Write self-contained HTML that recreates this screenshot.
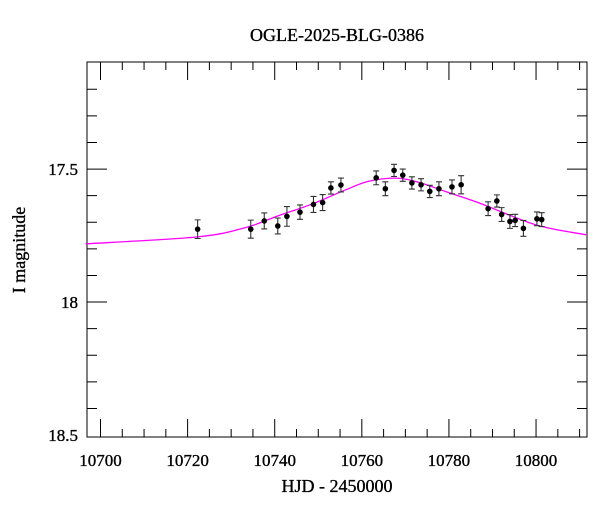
<!DOCTYPE html>
<html><head><meta charset="utf-8"><style>
html,body{margin:0;padding:0;background:#fff;}
svg text{font-family:"Liberation Serif",serif;fill:#000;stroke:#000;stroke-width:0.35;}
</style></head><body>
<svg id="chart" width="600" height="512" viewBox="0 0 600 512" xmlns="http://www.w3.org/2000/svg">
<text x="337" y="41" font-size="18" text-anchor="middle">OGLE-2025-BLG-0386</text>
<text x="337" y="492" font-size="18" text-anchor="middle">HJD - 2450000</text>
<text x="0" y="0" font-size="18" text-anchor="middle" transform="translate(25,250) rotate(-90)">I magnitude</text>
<g id="axes"></g>
<g id="curve"></g>
<g id="points"></g>
</svg>
<script>
const times=[10722.3,10734.5,10737.6,10740.7,10742.8,10745.8,10748.9,10751.0,10752.9,10755.2,10763.3,10765.4,10767.4,10769.4,10771.5,10773.6,10775.6,10777.7,10780.7,10782.8,10789.0,10791.0,10792.1,10794.0,10795.2,10797.1,10800.2,10801.3];
const mags=[17.726,17.726,17.695,17.714,17.678,17.662,17.633,17.626,17.571,17.56,17.533,17.574,17.505,17.523,17.552,17.559,17.584,17.574,17.567,17.559,17.649,17.62,17.671,17.697,17.693,17.723,17.687,17.69];
const errs=[0.035,0.034,0.03,0.03,0.037,0.027,0.03,0.03,0.023,0.026,0.026,0.026,0.023,0.023,0.023,0.023,0.023,0.026,0.026,0.034,0.026,0.023,0.026,0.026,0.023,0.03,0.026,0.026];
const modelT=[10696.6,10722.3,10733.3,10740.9,10748.5,10756.3,10761.6,10767.8,10773.1,10779.3,10786.9,10800.0,10811.5];
const modelMag=[17.781,17.755,17.72,17.675,17.632,17.578,17.546,17.534,17.55,17.585,17.627,17.71,17.747];
const xTicks=[10700,10720,10740,10760,10780,10800];
const yTicks=[17.5,18,18.5];
const yTickLabels=["17.5","18","18.5"];

const L=87,R=587,T=62,B=437;
const tMin=10696.9,tMax=10811.7,mTop=17.0975,mBot=18.5073;
const X=t=>L+(t-tMin)/(tMax-tMin)*(R-L);
const Y=m=>T+(m-mTop)/(mBot-mTop)*(B-T);
const NS="http://www.w3.org/2000/svg";
function mk(tag,attrs,parent){const e=document.createElementNS(NS,tag);for(const k in attrs)e.setAttribute(k,attrs[k]);parent.appendChild(e);return e;}
const axes=document.getElementById('axes');
const frame=mk('rect',{x:L,y:T,width:R-L,height:B-T,fill:'none',stroke:'#000','stroke-width':1},axes);


for(let t=10700;t<=tMax;t+=5){
  const major=(t%20===0);const len=major?18:8;const x=X(t);
  const tk=mk('path',{d:`M${x},${B}V${B-len}M${x},${T}V${T+len}`,stroke:'#000','stroke-width':1},axes);
  
  
}
xTicks.forEach(t=>{
  const tx=mk('text',{x:X(t),y:466,'font-size':17,'text-anchor':'middle'},axes);tx.textContent=String(t);
  
  
});
for(let i=11;i<=25;i++){
  const m=i/10+16;const major=(i%5===0);const len=major?20:10;const y=Y(m);
  if(y<T+2||y>B-2)continue;
  const tk=mk('path',{d:`M${L},${y}H${L+len}M${R},${y}H${R-len}`,stroke:'#000','stroke-width':1},axes);
  
  
}
yTicks.forEach((m,i)=>{
  const tx=mk('text',{x:78,y:Y(m)+6,'font-size':17,'text-anchor':'end'},axes);tx.textContent=yTickLabels[i];
  
  
});
const pts=modelT.map((t,i)=>[X(t),Y(modelMag[i])]);
let d=`M${pts[0][0]},${pts[0][1]}`;
for(let i=0;i<pts.length-1;i++){
  const p0=pts[Math.max(0,i-1)],p1=pts[i],p2=pts[i+1],p3=pts[Math.min(pts.length-1,i+2)];
  const c1=[p1[0]+(p2[0]-p0[0])/6,p1[1]+(p2[1]-p0[1])/6];
  const c2=[p2[0]-(p3[0]-p1[0])/6,p2[1]-(p3[1]-p1[1])/6];
  d+=`C${c1[0]},${c1[1]} ${c2[0]},${c2[1]} ${p2[0]},${p2[1]}`;
}
const cv=mk('path',{d:d,fill:'none',stroke:'#ff00ff','stroke-width':1.3},document.getElementById('curve'));


const pg=document.getElementById('points');
times.forEach((t,i)=>{
  const x=X(t),y=Y(mags[i]),y1=Y(mags[i]-errs[i]),y2=Y(mags[i]+errs[i]);
  const eb=mk('path',{d:`M${x},${y1}V${y2}M${x-3},${y1}H${x+3}M${x-3},${y2}H${x+3}`,stroke:'#333','stroke-width':1.1},pg);
  
  
  const c=mk('circle',{cx:x,cy:y,r:2.8,fill:'#000'},pg);
  
  
});
</script>
</body></html>
